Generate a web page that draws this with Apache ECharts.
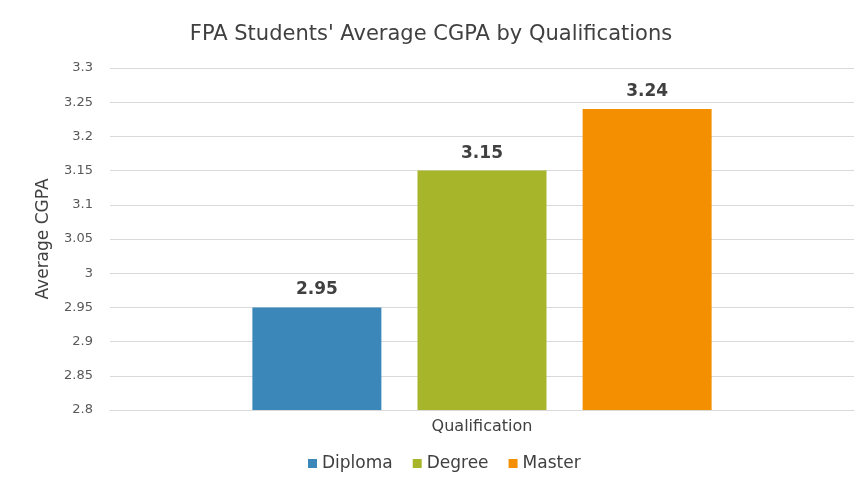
<!DOCTYPE html>
<html>
<head>
<meta charset="utf-8">
<script src="https://cdn.jsdelivr.net/npm/echarts@6/dist/echarts.min.js"></script>
<style>
  html, body { margin: 0; padding: 0; background: #fff; }
  #chart { width: 862px; height: 499px; }
</style>
</head>
<body>
<div id="chart"></div>
<script>
var categories = ['Qualification']
var seriesNames = ['Diploma', 'Degree', 'Master']
var seriesValues = [[2.95], [3.15], [3.24]]
var seriesColors = ['#3b87ba', '#a7b52b', '#f38f00']

var chart = echarts.init(document.getElementById('chart'))

var series = []
for (var i in seriesNames) {
    series.push({
        name: seriesNames[i],
        type: 'bar',
        data: seriesValues[i],
        barWidth: 129,
        barGap: '28%',
        itemStyle: { color: seriesColors[i] },
        label: {
            show: true,
            position: 'top',
            distance: 9,
            fontFamily: 'DejaVu Sans',
            fontWeight: 'bold',
            fontSize: 17,
            color: '#404040'
        }
    })
}

var option = {
    animation: false,
    backgroundColor: '#fff',
    textStyle: { fontFamily: 'DejaVu Sans' },
    title: {
        text: "FPA Students' Average CGPA by Qualifications",
        left: 'center',
        top: 19,
        textStyle: { fontSize: 21, fontWeight: 'normal', color: '#404040', fontFamily: 'DejaVu Sans' }
    },
    legend: {
        bottom: 22,
        left: 303,
        itemWidth: 9,
        itemHeight: 9,
        itemGap: 20,
        icon: 'rect',
        textStyle: { fontSize: 17, color: '#404040' },
        data: seriesNames
    },
    grid: { left: 110, right: 8, top: 68, bottom: 89, containLabel: false },
    xAxis: {
        type: 'category',
        data: categories,
        axisTick: { show: false },
        axisLine: { lineStyle: { color: '#d9d9d9' } },
        axisLabel: { fontSize: 16, color: '#404040', margin: 9 }
    },
    yAxis: {
        type: 'value',
        min: 2.8,
        max: 3.3,
        interval: 0.05,
        name: 'Average CGPA',
        nameLocation: 'middle',
        nameGap: 58,
        nameTextStyle: { fontSize: 17, color: '#404040' },
        axisLine: { show: false },
        axisTick: { show: false },
        splitLine: { lineStyle: { color: '#d9d9d9' } },
        axisLabel: {
            fontSize: 13,
            color: '#595959',
            margin: 17,
            formatter: function (v) { return +v.toFixed(2) + '' }
        }
    },
    series: series
}
chart.setOption(option)
</script>
</body>
</html>
